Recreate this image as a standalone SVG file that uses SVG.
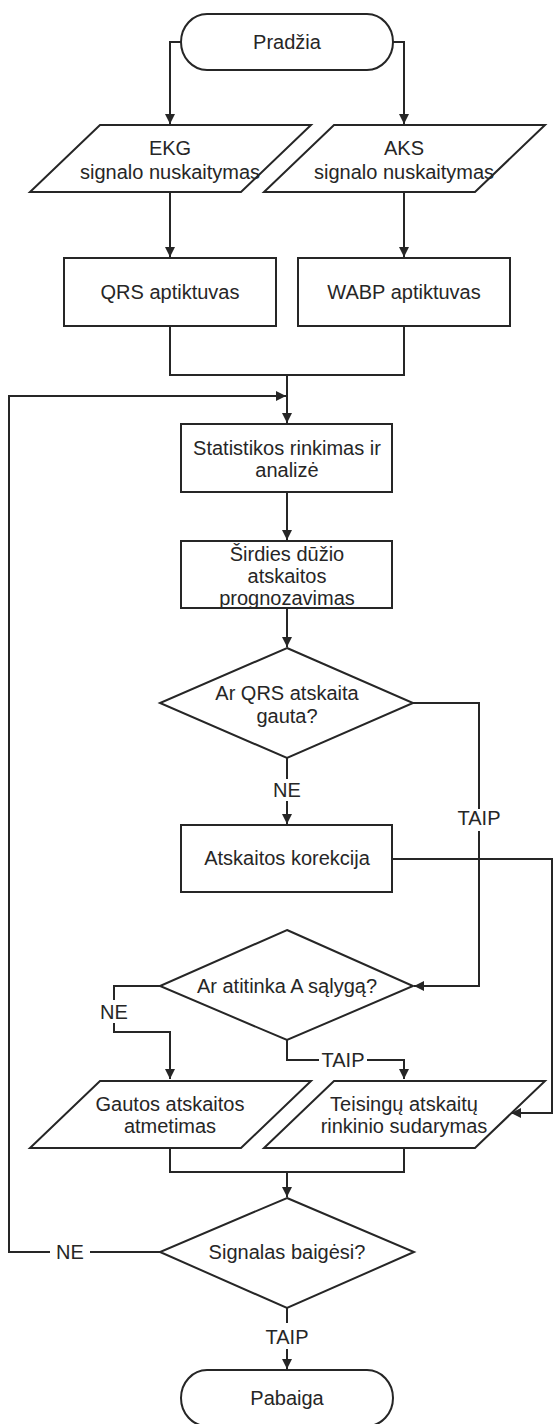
<svg xmlns="http://www.w3.org/2000/svg" width="553" height="1424" viewBox="0 0 553 1424">
<style>
.s{fill:#fff;stroke:#262626;stroke-width:2}
.c{fill:none;stroke:#262626;stroke-width:2}
.t{font-family:"Liberation Sans",Arial,sans-serif;font-size:20px;fill:#262626;text-anchor:middle}
.bg{fill:#fff}
</style>
<defs>
<marker id="ah" markerUnits="userSpaceOnUse" markerWidth="12" markerHeight="12" refX="10" refY="6" orient="auto">
<path d="M0,1 L10,6 L0,11 z" fill="#262626"/>
</marker>
</defs>
<rect width="553" height="1424" fill="#fff"/>
<g id="connectors">
<path class="c" d="M181,42 H170 V124" marker-end="url(#ah)"/>
<path class="c" d="M393,42 H404 V124" marker-end="url(#ah)"/>
<path class="c" d="M170,192 V257" marker-end="url(#ah)"/>
<path class="c" d="M404,192 V257" marker-end="url(#ah)"/>
<path class="c" d="M170,326 V375 H404 V326"/>
<path class="c" d="M287,375 V423" marker-end="url(#ah)"/>
<path class="c" d="M160,1252 H9 V396 H286" marker-end="url(#ah)"/>
<path class="c" d="M287,492 V540" marker-end="url(#ah)"/>
<path class="c" d="M287,608 V647" marker-end="url(#ah)"/>
<path class="c" d="M287,758 V824" marker-end="url(#ah)"/>
<path class="c" d="M413,703 H479 V986 H414" marker-end="url(#ah)"/>
<path class="c" d="M392,859 H552 V1113 H511" marker-end="url(#ah)"/>
<path class="c" d="M160,986 H114 V1032 H170 V1079" marker-end="url(#ah)"/>
<path class="c" d="M287,1040 V1060 H404 V1079" marker-end="url(#ah)"/>
<path class="c" d="M170,1148 V1172 H404 V1148"/>
<path class="c" d="M287,1172 V1197" marker-end="url(#ah)"/>
<path class="c" d="M287,1308 V1369" marker-end="url(#ah)"/>
</g>
<g id="labels">
<rect class="bg" x="272" y="779" width="30" height="22"/>
<text class="t" x="287" y="797">NE</text>
<rect class="bg" x="456" y="809" width="46" height="22"/>
<text class="t" x="479" y="825">TAIP</text>
<rect class="bg" x="101" y="1000" width="26" height="23"/>
<text class="t" x="114" y="1019">NE</text>
<rect class="bg" x="319" y="1049" width="48" height="22"/>
<text class="t" x="343" y="1067">TAIP</text>
<rect class="bg" x="50" y="1241" width="40" height="22"/>
<text class="t" x="70" y="1259">NE</text>
<rect class="bg" x="264" y="1323" width="46" height="26"/>
<text class="t" x="287" y="1344">TAIP</text>
</g>
<g id="start">
<rect class="s" x="181" y="14" width="212" height="56" rx="26" ry="28"/>
<text class="t" x="287" y="49">Pradžia</text>
</g>
<g id="ekg">
<path class="s" d="M100,125 H311 L241,192 H30 z"/>
<text class="t" x="170" y="155">EKG</text>
<text class="t" x="170" y="179">signalo nuskaitymas</text>
</g>
<g id="aks">
<path class="s" d="M334,125 H545 L475,192 H264 z"/>
<text class="t" x="404" y="155">AKS</text>
<text class="t" x="404" y="179">signalo nuskaitymas</text>
</g>
<g id="qrs">
<rect class="s" x="64" y="258" width="212" height="68"/>
<text class="t" x="170" y="299">QRS aptiktuvas</text>
</g>
<g id="wabp">
<rect class="s" x="298" y="258" width="212" height="68"/>
<text class="t" x="404" y="299">WABP aptiktuvas</text>
</g>
<g id="statistika">
<rect class="s" x="181" y="424" width="211" height="68"/>
<text class="t" x="287" y="455">Statistikos rinkimas ir</text>
<text class="t" x="287" y="477">analizė</text>
</g>
<g id="prognoze">
<rect class="s" x="181" y="541" width="211" height="67"/>
<text class="t" x="287" y="561">Širdies dūžio</text>
<text class="t" x="287" y="583">atskaitos</text>
<text class="t" x="287" y="605">prognozavimas</text>
</g>
<g id="dec1">
<path class="s" d="M287,648 L413,703 L287,758 L160,703 z"/>
<text class="t" x="287" y="700">Ar QRS atskaita</text>
<text class="t" x="287" y="723">gauta?</text>
</g>
<g id="korekcija">
<rect class="s" x="181" y="825" width="211" height="67"/>
<text class="t" x="287" y="865">Atskaitos korekcija</text>
</g>
<g id="dec2">
<path class="s" d="M287,930 L413,986 L287,1040 L160,986 z"/>
<text class="t" x="287" y="993">Ar atitinka A sąlygą?</text>
</g>
<g id="atmetimas">
<path class="s" d="M100,1081 H311 L241,1148 H30 z"/>
<text class="t" x="170" y="1111">Gautos atskaitos</text>
<text class="t" x="170" y="1133">atmetimas</text>
</g>
<g id="rinkinys">
<path class="s" d="M334,1081 H545 L475,1148 H264 z"/>
<text class="t" x="404" y="1111">Teisingų atskaitų</text>
<text class="t" x="404" y="1133">rinkinio sudarymas</text>
</g>
<g id="dec3">
<path class="s" d="M287,1198 L414,1252 L287,1308 L160,1252 z"/>
<text class="t" x="287" y="1259">Signalas baigėsi?</text>
</g>
<g id="end">
<rect class="s" x="181" y="1370" width="212" height="56" rx="26" ry="28"/>
<text class="t" x="287" y="1405">Pabaiga</text>
</g>
</svg>
